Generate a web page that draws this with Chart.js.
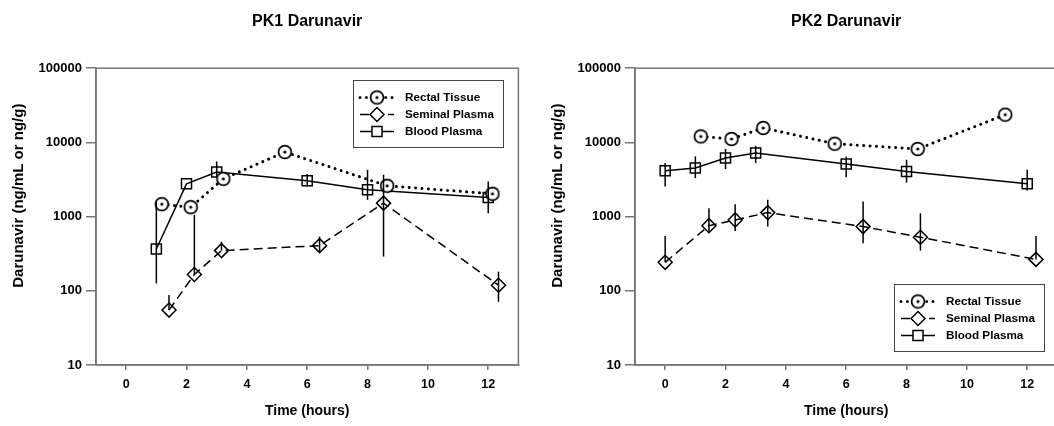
<!DOCTYPE html>
<html>
<head>
<meta charset="utf-8">
<title>Darunavir PK</title>
<script src="https://cdn.jsdelivr.net/npm/chart.js@4.4.0/dist/chart.umd.min.js"></script>
<style>
    html, body { margin: 0; padding: 0; background: #fff; overflow: hidden; }
    #wrap { position: relative; width: 1054px; height: 426px; overflow: hidden; }
    canvas { position: absolute; top: 0; }
    #pk1 { left: 0; }
    #pk2 { left: 539px; }
</style>
</head>
<body>
<div id="wrap">
    <canvas id="pk1" width="527" height="426"></canvas>
    <canvas id="pk2" width="527" height="426"></canvas>
</div>
<script>
// Axis ticks and labels
const xTicks = [0, 2, 4, 6, 8, 10, 12];
const yTicks = [10, 100, 1000, 10000, 100000];
const seriesNames = ['Rectal Tissue', 'Seminal Plasma', 'Blood Plasma'];

// PK1 - values (ng/mL or ng/g)
const pk1RectalTime = [1.18, 2.14, 3.22, 5.26, 8.65, 12.14];
const pk1RectalConc = [1470, 1340, 3230, 7410, 2600, 2030];

const pk1SeminalTime = [1.42, 2.26, 3.16, 6.41, 8.53, 12.34];
const pk1SeminalConc = [55, 166, 348, 406, 1518, 119];
const pk1SeminalHi = [88, 1055, 459, 537, 3665, 181];
const pk1SeminalLo = [55, 166, 348, 337, 289, 71];

const pk1BloodTime = [1, 2, 3, 6, 8, 12];
const pk1BloodConc = [366, 2765, 3980, 3035, 2295, 1806];
const pk1BloodHi = [1585, 2765, 5530, 3740, 4275, 2970];
const pk1BloodLo = [126, 2765, 3470, 2543, 1683, 1110];

// PK2
const pk2RectalTime = [1.18, 2.2, 3.25, 5.62, 8.37, 11.27];
const pk2RectalConc = [12050, 11120, 15660, 9600, 8150, 23650];

const pk2SeminalTime = [0, 1.45, 2.32, 3.4, 6.56, 8.46, 12.29];
const pk2SeminalConc = [242, 755, 902, 1132, 733, 527, 265];
const pk2SeminalHi = [548, 1297, 1472, 1683, 1596, 1110, 548];
const pk2SeminalLo = [242, 627, 641, 733, 438, 348, 265];

const pk2BloodTime = [0, 1, 2, 3, 6, 8, 12];
const pk2BloodConc = [4150, 4510, 6150, 7190, 5110, 4060, 2770];
const pk2BloodHi = [5270, 6475, 8150, 9020, 6475, 5840, 4275];
const pk2BloodLo = [2540, 3300, 4380, 5270, 3400, 2880, 2240];

const FONT = "'Liberation Sans', Arial, sans-serif";
Chart.defaults.font.family = FONT;
Chart.defaults.color = '#000';

// circle with a dot in the middle, used as point style
function circleDot(fill) {
    const c = document.createElement('canvas');
    c.width = 18; c.height = 18;
    const g = c.getContext('2d');
    g.beginPath();
    g.arc(9, 9, 6.4, 0, Math.PI * 2);
    g.fillStyle = fill;
    g.fill();
    g.lineWidth = 1.7;
    g.strokeStyle = '#000';
    g.stroke();
    g.beginPath();
    g.arc(9, 9, 1.6, 0, Math.PI * 2);
    g.fillStyle = '#000';
    g.fill();
    return c;
}
const circleImg = circleDot('#fff');

const styles = [
    { width: 3, dash: [0.01, 6.4], cap: 'round', point: circleImg, radius: 6 },
    { width: 1.5, dash: [9, 5], cap: 'butt', point: 'rectRot', radius: 7 },
    { width: 1.5, dash: [], cap: 'butt', point: 'rect', radius: 7.1 }
];

function makeDataset(i, times, conc, hi, lo) {
    const s = styles[i];
    return {
        label: seriesNames[i],
        data: times.map((t, k) => ({ x: t, y: conc[k] })),
        errHi: hi,
        errLo: lo,
        borderColor: '#000',
        borderWidth: s.width,
        borderDash: s.dash,
        borderCapStyle: s.cap,
        pointStyle: s.point,
        pointRadius: s.radius,
        pointHoverRadius: s.radius,
        pointBorderWidth: 1.5,
        pointBorderColor: '#000',
        pointBackgroundColor: 'rgba(0,0,0,0)',
        tension: 0,
        fill: false
    };
}

// box around the plot area
const framePlugin = {
    id: 'frame',
    beforeDatasetsDraw(chart) {
        const { ctx, chartArea: a } = chart;
        ctx.save();
        ctx.strokeStyle = '#777';
        ctx.lineWidth = 1.5;
        ctx.strokeRect(a.left, a.top, a.right - a.left, a.bottom - a.top);
        ctx.restore();
    }
};

// vertical error bars
const errorBarPlugin = {
    id: 'errorBars',
    afterDatasetsDraw(chart) {
        const { ctx } = chart;
        const yScale = chart.scales.y;
        ctx.save();
        ctx.strokeStyle = '#000';
        ctx.lineWidth = 1.5;
        chart.data.datasets.forEach((ds, i) => {
            if (!ds.errHi) return;
            const meta = chart.getDatasetMeta(i);
            meta.data.forEach((pt, k) => {
                const y1 = yScale.getPixelForValue(ds.errHi[k]);
                const y2 = yScale.getPixelForValue(ds.errLo[k]);
                if (Math.abs(y2 - y1) < 1) return;
                ctx.beginPath();
                ctx.moveTo(pt.x, y1);
                ctx.lineTo(pt.x, y2);
                ctx.stroke();
            });
        });
        ctx.restore();
    }
};

// y axis title sits a little above the middle of the axis in the original
const yTitlePlugin = {
    id: 'yTitle',
    afterDraw(chart) {
        const { ctx, chartArea: a } = chart;
        ctx.save();
        ctx.translate(19.3, a.top + 127.5);
        ctx.rotate(-Math.PI / 2);
        ctx.fillStyle = '#000';
        ctx.font = 'bold 15px ' + FONT;
        ctx.textAlign = 'center';
        ctx.textBaseline = 'middle';
        ctx.fillText('Darunavir (ng/mL or ng/g)', 0, 0);
        ctx.restore();
    }
};

function drawMarker(ctx, style, x, y) {
    if (style.point === circleImg) {
        ctx.drawImage(circleImg, x - 9, y - 9);
        return;
    }
    ctx.beginPath();
    if (style.point === 'rect') {
        const h = style.radius * Math.SQRT1_2;
        ctx.rect(x - h, y - h, h * 2, h * 2);
    } else {
        const r = style.radius;
        ctx.moveTo(x - r, y);
        ctx.lineTo(x, y - r);
        ctx.lineTo(x + r, y);
        ctx.lineTo(x, y + r);
        ctx.closePath();
    }
    ctx.fillStyle = '#fff';
    ctx.fill();
    ctx.lineWidth = 1.5;
    ctx.strokeStyle = '#000';
    ctx.stroke();
}

// legend with line + marker samples
const legendBoxPlugin = {
    id: 'legendBox',
    afterDraw(chart, args, opts) {
        const { ctx, chartArea: a } = chart;
        const bx = Math.round(a.left + opts.x);
        const by = Math.round(a.top + opts.y);
        ctx.save();
        ctx.fillStyle = '#fff';
        ctx.fillRect(bx, by, 150, 67);
        ctx.strokeStyle = '#444';
        ctx.lineWidth = 1;
        ctx.strokeRect(bx + 0.5, by + 0.5, 150, 67);
        const rows = [17.5, 34.5, 51.5];
        seriesNames.forEach((name, i) => {
            const s = styles[i];
            const y = by + rows[i];
            ctx.save();
            ctx.strokeStyle = '#000';
            ctx.lineWidth = s.width;
            ctx.lineCap = s.cap;
            ctx.setLineDash(s.dash);
            ctx.beginPath();
            ctx.moveTo(bx + 7, y);
            ctx.lineTo(bx + 41, y);
            ctx.stroke();
            ctx.restore();
            drawMarker(ctx, s, bx + 24, y);
            ctx.fillStyle = '#000';
            ctx.font = 'bold 11.7px ' + FONT;
            ctx.textBaseline = 'middle';
            ctx.textAlign = 'left';
            ctx.fillText(name, bx + 52, y + 0.5);
        });
        ctx.restore();
    }
};

function makeChart(id, title, datasets, legendPos) {
    const ctx = document.getElementById(id).getContext('2d');
    return new Chart(ctx, {
        type: 'line',
        data: { datasets: datasets },
        plugins: [framePlugin, errorBarPlugin, legendBoxPlugin, yTitlePlugin],
        options: {
            responsive: false,
            animation: false,
            layout: { padding: { left: 0, right: 8, top: 0, bottom: 0 } },
            plugins: {
                legend: { display: false },
                tooltip: { enabled: false },
                title: {
                    display: true,
                    text: title,
                    fullSize: false,
                    color: '#000',
                    font: { size: 16, weight: 'bold' },
                    padding: { top: 12, bottom: 37 }
                },
                legendBox: legendPos
            },
            scales: {
                x: {
                    type: 'linear',
                    min: -1,
                    max: 13,
                    afterBuildTicks: s => { s.ticks = xTicks.map(v => ({ value: v })); },
                    afterFit: s => { s.height = 61; },
                    border: { color: '#777', width: 1.5 },
                    grid: { drawOnChartArea: false, tickLength: 5, color: '#777', lineWidth: 1.5 },
                    ticks: {
                        autoSkip: false, maxRotation: 0, padding: 7, color: '#000',
                        font: { size: 12.5, weight: 'bold' },
                        callback: v => String(v)
                    },
                    title: {
                        display: true, text: 'Time (hours)', color: '#000',
                        font: { size: 14, weight: 'bold' },
                        padding: { top: 0, bottom: 6 }
                    }
                },
                y: {
                    type: 'logarithmic',
                    min: 10,
                    max: 100000,
                    afterBuildTicks: s => { s.ticks = yTicks.map(v => ({ value: v })); },
                    afterFit: s => { s.width = 96; },
                    border: { color: '#777', width: 1.5 },
                    grid: { drawOnChartArea: false, tickLength: 10, color: '#777', lineWidth: 1.5 },
                    ticks: {
                        autoSkip: false, padding: 4, color: '#000',
                        font: { size: 13, weight: 'bold' },
                        callback: v => String(v)
                    },
                    title: { display: false }
                }
            }
        }
    });
}

makeChart('pk1', 'PK1 Darunavir', [
    makeDataset(0, pk1RectalTime, pk1RectalConc, null, null),
    makeDataset(1, pk1SeminalTime, pk1SeminalConc, pk1SeminalHi, pk1SeminalLo),
    makeDataset(2, pk1BloodTime, pk1BloodConc, pk1BloodHi, pk1BloodLo)
], { x: 257, y: 11.5 });

makeChart('pk2', 'PK2 Darunavir', [
    makeDataset(0, pk2RectalTime, pk2RectalConc, null, null),
    makeDataset(1, pk2SeminalTime, pk2SeminalConc, pk2SeminalHi, pk2SeminalLo),
    makeDataset(2, pk2BloodTime, pk2BloodConc, pk2BloodHi, pk2BloodLo)
], { x: 259, y: 216 });
</script>
</body>
</html>
